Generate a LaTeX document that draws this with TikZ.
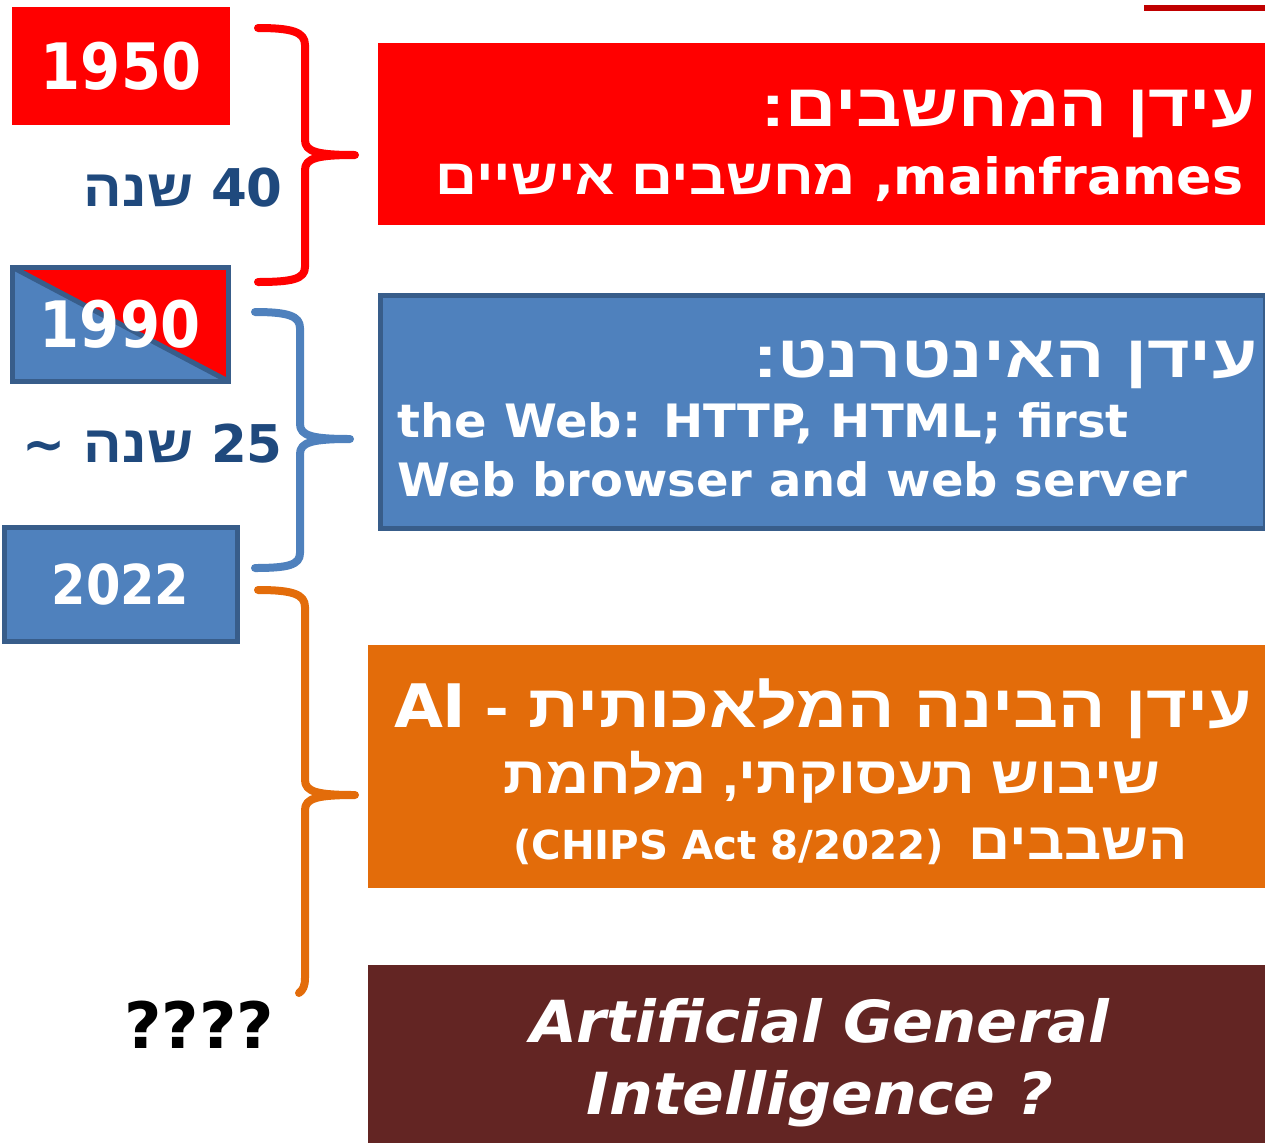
\documentclass[tikz,border=0pt]{standalone}
\usepackage{fontspec}
\usepackage{xcolor}
\usepackage{graphicx}
\usetikzlibrary{positioning,calc}
\TeXXeTstate=1
\newfontfamily\latfont{DejaVu Sans Condensed}
\newfontfamily\hebfont[Script=Hebrew]{Liberation Sans}
\newcommand{\fs}[1]{\fontsize{#1}{#1}\selectfont}
\newcommand{\heb}[1]{{\hebfont #1}}
\newcommand{\wider}[2]{\scalebox{#1}[1]{#2}}
\definecolor{eraRed}{HTML}{FF0000}
\definecolor{netBlue}{HTML}{4F81BD}
\definecolor{netEdge}{HTML}{385D8A}
\definecolor{spanBlue}{HTML}{1F497D}
\definecolor{aiOrange}{HTML}{E36C0A}
\definecolor{agiBrown}{HTML}{632523}
\definecolor{topRed}{HTML}{C00000}
\tikzset{
  yearbox/.style={shape=rectangle,inner sep=0pt,text=white,font=\latfont\bfseries\fs{64}},
  erabox/.style={shape=rectangle,inner sep=0pt},
  eratext/.style={inner sep=0pt,text=white,font=\latfont\bfseries},
  spanlbl/.style={inner sep=0pt,anchor=base east,text=spanBlue,font=\latfont\bfseries\fs{52}},
  bracket/.style={line width=8pt,line cap=round,line join=round},
}
\begin{document}
\begin{tikzpicture}[x=1pt,y=-1pt]
      \useasboundingbox (0,0) rectangle (1265,1143);
      \fill[topRed] (1144,4.5) rectangle (1265,10.5);
      % years
      \node[yearbox,fill=eraRed,minimum width=218pt,minimum height=118pt] (y0) at (121,66) {1950};
      \node[yearbox,fill=netBlue,draw=netEdge,line width=5pt,minimum width=216pt,minimum height=114pt,
            path picture={\fill[eraRed] (path picture bounding box.north west) -- (path picture bounding box.north east)
              -- (path picture bounding box.south east) -- cycle;
              \draw[netEdge,line width=5pt] (path picture bounding box.north west) -- (path picture bounding box.south east);}]
            (y1) at (120,324) {1990};
      \node[yearbox,fill=netBlue,draw=netEdge,line width=5pt,minimum width=233pt,minimum height=114pt,font=\latfont\bfseries\fs{55}] (y2) at (120.5,584) {2022};
      \node[inner sep=0pt,anchor=base,font=\latfont\bfseries\fs{64}] (y3) at (199,1048) {\wider{1.12}{????}};
      \node[spanlbl] (s0) at (283,206) {\wider{1.1}{\beginR\beginL 40\endL\ \heb{שנה}\endR}};
      \node[spanlbl] (s1) at (283,462) {\wider{1.1}{\beginR\beginL 25\endL\ \heb{שנה} \textasciitilde\endR}};
      % braces
      \draw[bracket,eraRed] (258,28) .. controls (292,28) and (305,32) .. (305,45) -- (305,140)
        .. controls (305,152) and (318,155) .. (355,155) .. controls (318,155) and (305,158) .. (305,170)
        -- (305,267) .. controls (305,279) and (292,282) .. (258,282);
      \draw[bracket,netBlue] (255,312) .. controls (288,312) and (300,316) .. (300,328) -- (300,424)
        .. controls (300,436) and (313,439) .. (350,439) .. controls (313,439) and (300,442) .. (300,454)
        -- (300,553) .. controls (300,565) and (288,568) .. (255,568);
      \draw[bracket,aiOrange] (258,590) .. controls (292,590) and (305,594) .. (305,607) -- (305,780)
        .. controls (305,792) and (318,795) .. (355,795) .. controls (318,795) and (305,798) .. (305,810)
        -- (305,978) .. controls (305,986) and (303,990) .. (299,993);
      % eras
      \node[erabox,fill=eraRed,minimum width=887pt,minimum height=182pt] (e0) at (821.5,134) {};
      \node[erabox,fill=netBlue,draw=netEdge,line width=5pt,minimum width=885pt,minimum height=233pt] (e1) at (822.5,411.5) {};
      \node[erabox,fill=aiOrange,minimum width=897pt,minimum height=243pt] (e2) at (816.5,766.5) {};
      \node[erabox,fill=agiBrown,minimum width=897pt,minimum height=178pt] (e3) at (816.5,1054) {};
      \node[eratext,anchor=base east,font=\hebfont\bfseries\fs{60}] (t0) at ($(e0.north east)+(-10,84)$)
        {\wider{1.18}{\beginR עידן המחשבים:\endR}};
      \node[eratext,anchor=base east,font=\latfont\bfseries\fs{50}] (t1) at ($(e0.north east)+(-22,152)$)
        {\wider{1.16}{\beginR\beginL mainframes\endL, \heb{מחשבים אישיים}\endR}};
      \node[eratext,anchor=base east,font=\hebfont\bfseries\fs{60}] (t2) at ($(e1.north east)+(-10,85)$)
        {\wider{1.22}{\beginR עידן האינטרנט:\endR}};
      \node[eratext,anchor=base west,font=\latfont\bfseries\fs{46}] (t3) at ($(e1.north west)+(20,145)$)
        {\wider{1.16}{the Web: HTTP, HTML; first}};
      \node[eratext,anchor=base west,font=\latfont\bfseries\fs{46}] (t3b) at ($(t3.base west)+(0,59)$)
        {\wider{1.16}{Web browser and web server}};
      \node[eratext,anchor=base east,font=\hebfont\bfseries\fs{60}] (t4) at ($(e2.north east)+(-13,83)$)
        {\wider{1.17}{\beginR עידן הבינה המלאכותית - \beginL{\latfont AI}\endL\endR}};
      \node[eratext,anchor=base,font=\hebfont\bfseries\fs{52}] (t5) at ($(e2.north west)+(464,149)$)
        {\wider{1.14}{\beginR שיבוש תעסוקתי, מלחמת\endR}};
      \node[eratext,anchor=base east,font=\hebfont\bfseries\fs{52}] (t6) at ($(e2.north east)+(-77,215)$)
        {\wider{1.12}{\beginR השבבים\hspace{22pt}\beginL{\latfont\fs{40}(CHIPS Act 8/2022)}\endL\endR}};
      \node[eratext,anchor=base,font=\latfont\bfseries\itshape\fs{58}] (t7) at ($(e3.north west)+(452,78)$)
        {\wider{1.16}{Artificial General}};
      \node[eratext,anchor=base,font=\latfont\bfseries\itshape\fs{58}] (t7b) at ($(t7.base)+(0,72)$)
        {\wider{1.18}{Intelligence ?}};
\end{tikzpicture}
\end{document}
